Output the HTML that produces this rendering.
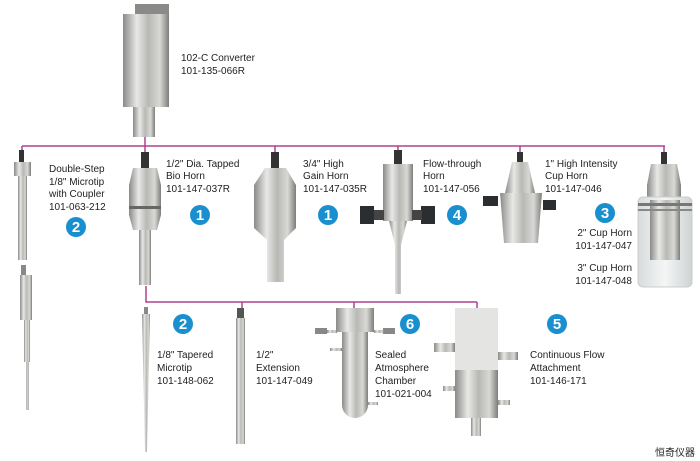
<!DOCTYPE html>
<html><head><meta charset="utf-8"><style>
html,body{margin:0;padding:0;background:#fff;width:700px;height:461px;overflow:hidden}
svg{display:block}
text{font-family:"Liberation Sans",sans-serif;font-size:10px;fill:#222}
.e{text-anchor:end}
.n{font-size:15px;font-weight:bold;fill:#fff;text-anchor:middle}
</style></head><body>
<svg width="700" height="461" viewBox="0 0 700 461">
<defs>
<linearGradient id="m" x1="0" x2="1" y1="0" y2="0">
<stop offset="0" stop-color="#8a8a88"/><stop offset=".3" stop-color="#e8e8e6"/><stop offset=".55" stop-color="#b8b8b5"/><stop offset=".8" stop-color="#d8d8d5"/><stop offset="1" stop-color="#7d7d7a"/></linearGradient>
<linearGradient id="g" x1="0" x2="1"><stop offset="0" stop-color="#d8dcdc"/><stop offset=".5" stop-color="#f4f6f6"/><stop offset="1" stop-color="#cfd3d3"/></linearGradient>
</defs>
<g stroke="#b0408f" stroke-width="1.5" fill="none">
<path d="M22 146H665M145 137V146M22 146V152M145 146V152M275 146V152M398 146V152M520 146V152M664 146V152"/>
<path d="M146 286V302H477M242 302V308M354 302V308M477 302V308"/>
</g>
<g fill="url(#m)">
<rect x="135" y="4" width="34" height="10" fill="#8a8a88"/>
<rect x="123" y="14" width="46" height="93"/>
<rect x="133" y="107" width="22" height="30"/>
<rect x="19" y="150" width="5" height="12" fill="#333"/>
<rect x="14" y="162" width="17" height="14"/>
<rect x="18" y="176" width="9" height="84"/>
<rect x="21" y="265" width="5" height="10" fill="#888"/>
<rect x="20" y="275" width="12" height="45"/>
<rect x="24" y="320" width="6" height="42"/>
<rect x="26" y="362" width="3" height="48"/>
<rect x="141" y="152" width="8" height="16" fill="#333"/>
<path d="M133 168H157L161 185V215L157 230H133L129 215V185Z"/>
<rect x="129" y="206" width="32" height="3" fill="#666"/>
<rect x="139" y="230" width="12" height="55"/>
<rect x="271" y="152" width="8" height="16" fill="#333"/>
<path d="M265 168H286L296 185V228L284 240V282H267V240L254 228V185Z"/>
<rect x="394" y="150" width="8" height="14" fill="#333"/>
<rect x="383" y="164" width="30" height="57"/>
<path d="M389 221H407L401 245L401 294H395V245Z"/>
<rect x="360" y="206" width="14" height="18" fill="#2a2e30"/>
<rect x="374" y="210" width="10" height="10" fill="#444"/>
<rect x="421" y="206" width="14" height="18" fill="#2a2e30"/>
<rect x="412" y="210" width="10" height="10" fill="#444"/>
<rect x="517" y="152" width="6" height="10" fill="#333"/>
<path d="M512 162H528L535 193H505Z"/>
<path d="M500 193H542L538 243H504Z"/>
<rect x="483" y="196" width="15" height="10" fill="#2a2e30"/>
<rect x="543" y="200" width="13" height="10" fill="#2a2e30"/>
<rect x="661" y="152" width="6" height="12" fill="#333"/>
<path d="M651 164H677L681 185V200H647V185Z"/>
<rect x="638" y="197" width="54" height="90" rx="5" fill="url(#g)" stroke="#ccc"/>
<rect x="650" y="200" width="30" height="60"/>
<rect x="638" y="203" width="54" height="3" fill="#777"/>
<rect x="638" y="209" width="54" height="2" fill="#888"/>
<rect x="144" y="307" width="4" height="7" fill="#888"/>
<path d="M142 314H150L147 452H145Z"/>
<rect x="237" y="308" width="7" height="10" fill="#555"/>
<rect x="236" y="318" width="9" height="126"/>
<rect x="336" y="308" width="38" height="24"/>
<rect x="315" y="328" width="12" height="6" fill="#888"/>
<rect x="327" y="330" width="10" height="3"/>
<rect x="383" y="328" width="12" height="6" fill="#888"/>
<rect x="374" y="330" width="10" height="3"/>
<path d="M342 332H368V405A13 13 0 0 1 342 405Z"/>
<rect x="330" y="348" width="12" height="3"/>
<rect x="368" y="402" width="10" height="3"/>
<rect x="455" y="308" width="43" height="65" fill="#e4e4e2"/>
<rect x="455" y="370" width="43" height="48"/>
<rect x="471" y="418" width="10" height="18"/>
<rect x="434" y="343" width="21" height="9"/>
<rect x="498" y="352" width="20" height="8"/>
<rect x="443" y="386" width="12" height="5"/>
<rect x="498" y="400" width="12" height="5"/>
</g>
<g>
<text x="181" y="61">102-C Converter</text><text x="181" y="74">101-135-066R</text>
<text x="49" y="172">Double-Step</text><text x="49" y="185">1/8" Microtip</text><text x="49" y="197">with Coupler</text><text x="49" y="210">101-063-212</text>
<text x="166" y="167">1/2" Dia. Tapped</text><text x="166" y="179">Bio Horn</text><text x="166" y="192">101-147-037R</text>
<text x="303" y="167">3/4" High</text><text x="303" y="179">Gain Horn</text><text x="303" y="192">101-147-035R</text>
<text x="423" y="167">Flow-through</text><text x="423" y="179">Horn</text><text x="423" y="192">101-147-056</text>
<text x="545" y="167">1" High Intensity</text><text x="545" y="179">Cup Horn</text><text x="545" y="192">101-147-046</text>
<text class="e" x="632" y="236">2" Cup Horn</text><text class="e" x="632" y="249">101-147-047</text>
<text class="e" x="632" y="271">3" Cup Horn</text><text class="e" x="632" y="284">101-147-048</text>
<text x="157" y="358">1/8" Tapered</text><text x="157" y="371">Microtip</text><text x="157" y="384">101-148-062</text>
<text x="256" y="358">1/2"</text><text x="256" y="371">Extension</text><text x="256" y="384">101-147-049</text>
<text x="375" y="358">Sealed</text><text x="375" y="371">Atmosphere</text><text x="375" y="384">Chamber</text><text x="375" y="397">101-021-004</text>
<text x="530" y="358">Continuous Flow</text><text x="530" y="371">Attachment</text><text x="530" y="384">101-146-171</text>
<text x="655" y="456" style="font-family:'Liberation Sans','Noto Sans CJK SC',sans-serif;font-size:10px">恒奇仪器</text>
</g>
<g fill="#1a8fd0">
<circle cx="76" cy="227" r="10"/><circle cx="200" cy="215" r="10"/><circle cx="328" cy="215" r="10"/>
<circle cx="457" cy="215" r="10"/><circle cx="605" cy="213" r="10"/>
<circle cx="183" cy="324" r="10"/><circle cx="410" cy="324" r="10"/><circle cx="557" cy="324" r="10"/>
</g>
<g>
<text class="n" x="76" y="232">2</text><text class="n" x="200" y="220">1</text><text class="n" x="328" y="220">1</text>
<text class="n" x="457" y="220">4</text><text class="n" x="605" y="218">3</text>
<text class="n" x="183" y="329">2</text><text class="n" x="410" y="329">6</text><text class="n" x="557" y="329">5</text>
</g>
</svg>
</body></html>
